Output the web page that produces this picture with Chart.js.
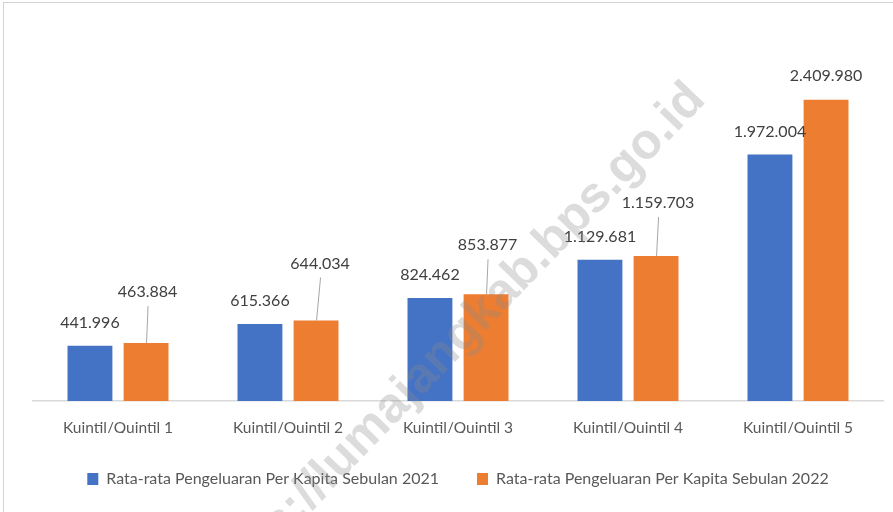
<!DOCTYPE html>
<html>
<head>
<meta charset="utf-8">
<script src="https://cdn.jsdelivr.net/npm/chart.js@4"></script>
<style>
  html, body { margin: 0; padding: 0; background: #fff; overflow: hidden; }
  #wrap { position: relative; width: 893px; height: 512px; }
  #frame { position: absolute; left: 3px; top: 2px; width: 1000px; height: 1000px;
           border-left: 1px solid #d4d4d4; border-top: 1px solid #d4d4d4; }
  canvas { position: absolute; left: 0; top: 0; }
</style>
</head>
<body>
<div id="wrap">
  <div id="frame"></div>
  <canvas id="chart" width="893" height="512"></canvas>
</div>
<script>
// ------- data -------
const categories = ['Kuintil/Quintil 1', 'Kuintil/Quintil 2', 'Kuintil/Quintil 3', 'Kuintil/Quintil 4', 'Kuintil/Quintil 5'];
const series2021 = [441996, 615366, 824462, 1129681, 1972004];
const series2022 = [463884, 644034, 853877, 1159703, 2409980];
const seriesNames = ['Rata-rata Pengeluaran Per Kapita Sebulan 2021', 'Rata-rata Pengeluaran Per Kapita Sebulan 2022'];

const FONT = "Lato, 'Liberation Sans', sans-serif";

// label placement (px above bar top), 2022 labels sit higher with a leader line
const lift2021 = 23;
const lift2022 = [51, 57, 49, 53, 24];
const shift2022 = [1.5, 4, 1.5, 2, 0];

const fmtId = v => String(v).replace(/\B(?=(\d{3})+(?!\d))/g, '.');

const valueLabels = {
  id: 'valueLabels',
  afterDatasetsDraw(chart) {
    const ctx = chart.ctx;
    ctx.save();
    ctx.font = '16px ' + FONT;
    ctx.fillStyle = '#404040';
    ctx.textAlign = 'center';
    ctx.textBaseline = 'middle';
    chart.getDatasetMeta(0).data.forEach((bar, i) => {
      ctx.fillText(fmtId(series2021[i]), bar.x, bar.y - lift2021);
    });
    chart.getDatasetMeta(1).data.forEach((bar, i) => {
      const lx = bar.x + shift2022[i];
      const ly = bar.y - lift2022[i];
      ctx.fillText(fmtId(series2022[i]), lx, ly);
      if (lift2022[i] > 35) {
        ctx.strokeStyle = '#a6a6a6';
        ctx.lineWidth = 1;
        ctx.beginPath();
        ctx.moveTo(lx + 0.5, ly + 14);
        ctx.lineTo(bar.x + 0.5, bar.y);
        ctx.stroke();
      }
    });
    ctx.restore();
  }
};

const watermark = {
  id: 'watermark',
  afterDraw(chart) {
    const ctx = chart.ctx;
    ctx.save();
    ctx.translate(707, 101);
    ctx.rotate(-46 * Math.PI / 180);
    ctx.font = 'bold 50px "Liberation Sans", Arial, sans-serif';
    ctx.fillStyle = 'rgba(140,140,140,0.30)';
    ctx.textAlign = 'right';
    ctx.textBaseline = 'alphabetic';
    ctx.fillText('https://lumajangkab.bps.go.id', 0, 0);
    ctx.restore();
  }
};

new Chart(document.getElementById('chart'), {
  type: 'bar',
  data: {
    labels: categories,
    datasets: [
      { label: seriesNames[0], data: series2021, backgroundColor: '#4472C4',
        categoryPercentage: 0.66, barPercentage: 0.8 },
      { label: seriesNames[1], data: series2022, backgroundColor: '#ED7D31',
        categoryPercentage: 0.66, barPercentage: 0.8 }
    ]
  },
  options: {
    responsive: false, animation: false,
    layout: { padding: { top: 26, left: 33, right: 10, bottom: 15 } },
    plugins: {
      tooltip: { enabled: false },
      legend: {
        position: 'bottom',
        labels: { font: { family: FONT, size: 16 }, color: '#595959',
                  boxWidth: 11, boxHeight: 12, padding: 38 }
      }
    },
    scales: {
      x: {
        grid: { display: false, drawTicks: false },
        border: { color: '#d9d9d9', width: 1.5 },
        ticks: { font: { family: FONT, size: 15.5 }, color: '#595959', padding: 18 },
        afterFit: s => { s.height = 32; }
      },
      y: { display: false, min: 0, max: 3000000 }
    }
  },
  plugins: [valueLabels, watermark]
});
</script>
</body>
</html>
